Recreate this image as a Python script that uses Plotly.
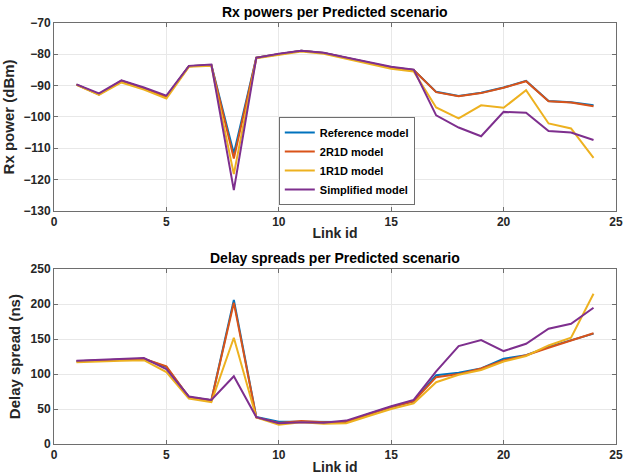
import plotly.graph_objects as go

link_id = list(range(1, 25))

# Rx power (dBm)
rx_reference = [-89.7, -92.8, -88.5, -90.8, -93.6, -83.8, -83.4, -111.7, -81.1, -79.9, -78.9, -79.6,
                -81.1, -82.7, -84.2, -85.0, -92.0, -93.3, -92.3, -90.6, -88.5, -94.9, -95.3, -96.3]
rx_2r1d = [-89.7, -92.8, -88.5, -90.8, -93.6, -83.8, -83.4, -113.3, -81.1, -79.9, -78.9, -79.6,
           -81.1, -82.7, -84.2, -85.0, -92.1, -93.4, -92.4, -90.7, -88.6, -95.0, -95.4, -96.6]
rx_1r1d = [-89.8, -93.0, -89.0, -91.3, -94.1, -84.0, -83.7, -118.3, -81.3, -80.1, -79.1, -79.8,
           -81.4, -83.0, -84.6, -85.5, -97.0, -100.5, -96.3, -97.1, -91.5, -102.1, -103.7, -113.1]
rx_simplified = [-89.6, -92.5, -88.3, -90.6, -93.2, -83.7, -83.3, -123.4, -81.1, -79.8, -78.9, -79.5,
                 -81.0, -82.5, -84.0, -84.9, -99.5, -103.4, -106.2, -98.4, -98.7, -104.5, -105.0, -107.4]

# Delay spread (ns)
ds_reference = [118.5, 119.5, 120.5, 122.0, 110.0, 67.0, 62.5, 206.0, 38.5, 32.0, 32.0, 31.5,
                31.5, 43.0, 53.0, 61.0, 98.5, 102.0, 108.0, 122.0, 127.0, 139.0, 148.0, 158.0]
ds_2r1d = [118.5, 119.5, 120.5, 122.0, 111.0, 67.0, 62.5, 202.0, 38.0, 30.0, 33.0, 31.0,
           32.0, 43.0, 53.0, 61.0, 95.6, 100.0, 108.0, 119.5, 127.0, 137.7, 147.7, 158.5]
ds_1r1d = [117.0, 118.5, 119.0, 120.0, 103.0, 65.0, 60.0, 152.0, 38.0, 27.7, 31.0, 29.0,
           29.6, 40.0, 50.0, 58.0, 88.4, 99.0, 106.0, 118.0, 126.0, 141.0, 152.0, 215.0]
ds_simplified = [119.0, 120.5, 122.0, 123.0, 107.0, 68.0, 63.0, 97.0, 38.5, 29.6, 31.0, 30.5,
                 33.5, 44.0, 54.0, 63.0, 104.0, 140.0, 148.7, 133.0, 143.4, 165.0, 172.0, 195.0]

names = ["Reference model", "2R1D model", "1R1D model", "Simplified model"]
colors = ["#0072BD", "#D95319", "#EDB120", "#7E2F8E"]
rx_series = [rx_reference, rx_2r1d, rx_1r1d, rx_simplified]
ds_series = [ds_reference, ds_2r1d, ds_1r1d, ds_simplified]

fig = go.Figure()
for name, col, ys in zip(names, colors, rx_series):
    fig.add_trace(go.Scatter(x=link_id, y=ys, mode="lines", name=name,
                             line=dict(color=col, width=2), xaxis="x", yaxis="y"))
for name, col, ys in zip(names, colors, ds_series):
    fig.add_trace(go.Scatter(x=link_id, y=ys, mode="lines", name=name, showlegend=False,
                             line=dict(color=col, width=2), xaxis="x2", yaxis="y2"))

font_family = "Liberation Sans, Arial, sans-serif"
axis_common = dict(
    showgrid=True, gridcolor="#e8e8e8", gridwidth=1,
    showline=True, linecolor="#6e6e6e", linewidth=1, mirror="ticks",
    ticks="inside", ticklen=4, tickcolor="#6e6e6e",
    tickfont=dict(family=font_family, size=12, color="#262626", weight="bold"),
    zeroline=False, automargin=False,
)
x_title_font = dict(family=font_family, size=14, weight="bold", color="#262626")
y_title_font = dict(family=font_family, size=15, weight="bold", color="#262626")

fig.update_layout(
    width=623, height=476,
    margin=dict(l=54, r=7, t=23, b=32),
    paper_bgcolor="white", plot_bgcolor="white",
    font=dict(family=font_family, color="#262626"),
    xaxis=dict(domain=[0, 1], anchor="y", range=[0, 25], dtick=5,
               title=dict(text="Link id", font=x_title_font, standoff=0),
               **axis_common),
    yaxis=dict(domain=[0.554, 1.0], anchor="x", range=[-130, -70], dtick=10,
               title=dict(text="Rx power (dBm)", font=y_title_font, standoff=10),
               **axis_common),
    xaxis2=dict(domain=[0, 1], anchor="y2", range=[0, 25], dtick=5,
                title=dict(text="Link id", font=x_title_font, standoff=0),
                **axis_common),
    yaxis2=dict(domain=[0, 0.415], anchor="x2", range=[0, 250], dtick=50,
                title=dict(text="Delay spread (ns)", font=y_title_font, standoff=6),
                **axis_common),
    legend=dict(x=0.40, y=0.777, xanchor="left", yanchor="top",
                bgcolor="white", bordercolor="#6e6e6e", borderwidth=1,
                font=dict(family=font_family, size=11, color="#000000", weight="bold"),
                tracegroupgap=0, itemwidth=30),
    showlegend=True,
    annotations=[
        dict(text="Rx powers per Predicted scenario", x=0.5, y=1.0, xref="paper", yref="paper",
             xanchor="center", yanchor="bottom", yshift=1, showarrow=False,
             font=dict(family=font_family, size=14, weight="bold", color="#000000")),
        dict(text="Delay spreads per Predicted scenario", x=0.5, y=0.415, xref="paper", yref="paper",
             xanchor="center", yanchor="bottom", yshift=1, showarrow=False,
             font=dict(family=font_family, size=14, weight="bold", color="#000000")),
    ],
)

fig.write_html("out.html")
